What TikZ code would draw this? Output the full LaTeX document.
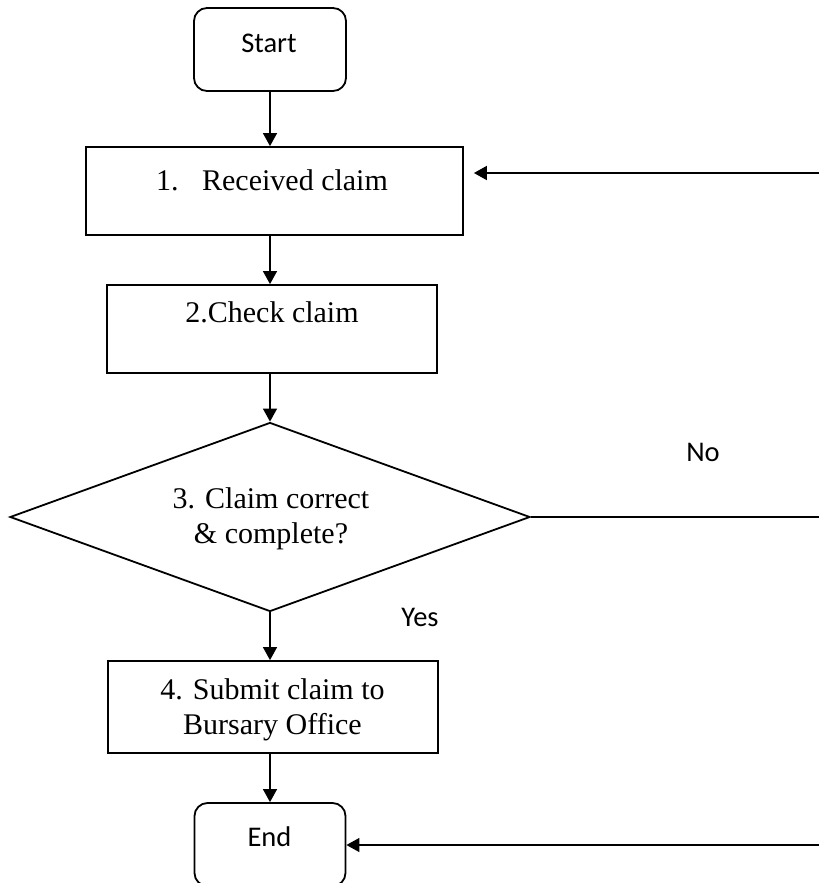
\documentclass[tikz,border=0pt]{standalone}
\usepackage{fontspec}
\setmainfont{Liberation Serif}
\newfontfamily\calibfont{Carlito}
\usetikzlibrary{arrows.meta,shapes.geometric}
\begin{document}
\begin{tikzpicture}[x=1pt,y=-1pt,
  procbox/.style={draw, line width=1.8pt, inner sep=0pt},
  termbox/.style={draw, line width=1.8pt, rounded corners=13pt, inner sep=0pt},
  decbox/.style={draw, diamond, line width=1.8pt, inner sep=0pt},
  serif/.style={font=\fontsize{30}{36}\selectfont, anchor=base, inner sep=0pt},
  sans/.style={font=\calibfont\fontsize{28.5}{34}\selectfont, inner sep=0pt},
  arr/.style={-{Triangle[length=13pt,width=14pt]}, line width=1.3pt}
]
\path[use as bounding box, clip] (0,0) rectangle (819,883);
\fill[white] (0,0) rectangle (819,883);

% shapes
\node[termbox, minimum width=152pt, minimum height=83pt] (start) at (270,49.5) {};
\node[sans] (tstart) at (269,43) {Start};

\node[procbox, minimum width=377pt, minimum height=88pt] (b1) at (274.5,191) {};
\node[serif] (t1) at (272,190) {1.\hspace{23.5pt}Received claim};

\node[procbox, minimum width=330pt, minimum height=88pt] (b2) at (272,329) {};
\node[serif] (t2) at (272,322) {2.Check claim};

\node[decbox, minimum width=520pt, minimum height=189pt] (d) at (270,517) {};
\node[serif] (t3a) at (271,508) {3. Claim correct};
\node[serif] (t3b) at (271,543) {\& complete?};

\node[procbox, minimum width=330pt, minimum height=92pt] (b4) at (273,707) {};
\node[serif] (t4a) at (272.5,699) {4. Submit claim to};
\node[serif] (t4b) at (272.5,734) {Bursary Office};

\node[termbox, minimum width=151pt, minimum height=83pt] (end) at (270,844.5) {};
\node[sans] (tend) at (269.5,837) {End};

\node[sans] (no) at (703,452) {No};
\node[sans] (yes) at (420,617) {Yes};

% free ends on the right edge
\coordinate (r1) at (819,173);
\coordinate (r2) at (819,517);
\coordinate (r3) at (819,845);

% connectors
\draw[arr] (start) -- (start |- b1.north);
\draw[arr] (b1.south -| d.north) -- (d.north |- b2.north);
\draw[arr] (b2.south -| d.north) -- (d.north);
\draw[arr] (d.south) -- (d.south |- b4.north);
\draw[arr] (b4.south -| end.north) -- (end.north);

\draw[arr, line width=1.8pt, shorten >=10pt] (r1) -- (b1.east |- r1);
\draw[line width=2pt] (d.east) -- (r2);
\draw[arr] (r3) -- (end.east |- r3);
\end{tikzpicture}
\end{document}
